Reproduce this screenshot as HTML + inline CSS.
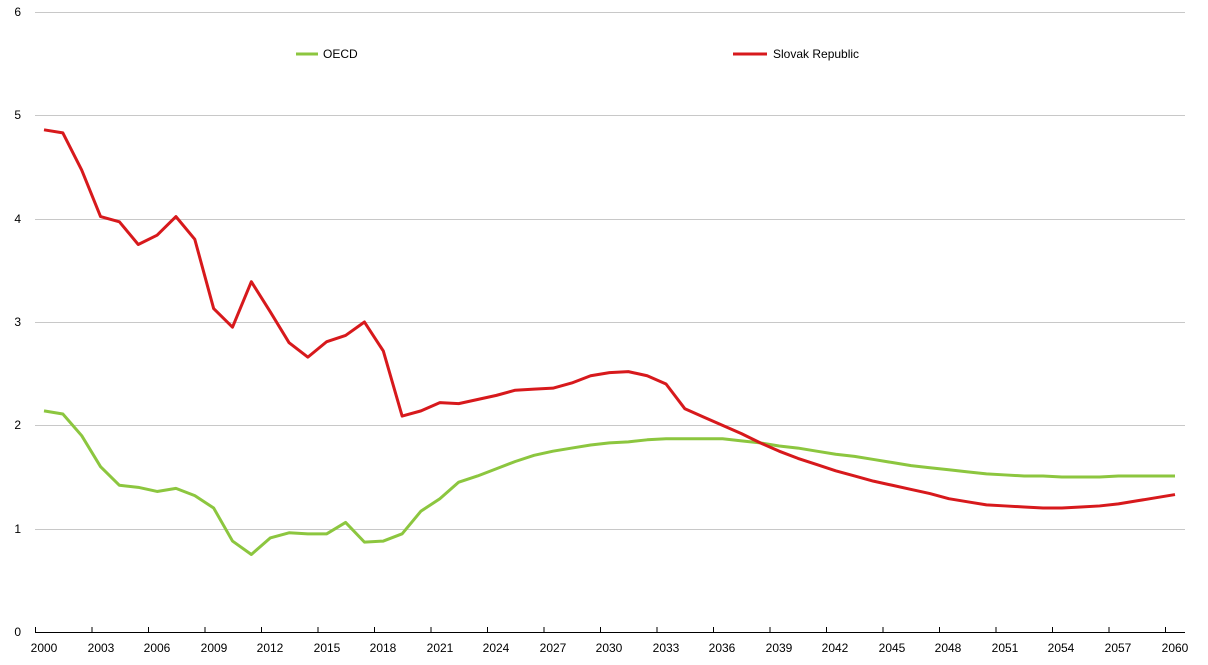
<!DOCTYPE html>
<html><head><meta charset="utf-8"><style>
body{margin:0;background:#fff;}
svg{display:block;font-family:"Liberation Sans",Arial,sans-serif;font-size:12px;}
</style></head><body>
<svg width="1208" height="665" viewBox="0 0 1208 665">
<g stroke="#c8c8c8" stroke-width="1">
<line x1="35" x2="1185" y1="12.5" y2="12.5"/>
<line x1="35" x2="1185" y1="115.5" y2="115.5"/>
<line x1="35" x2="1185" y1="219.5" y2="219.5"/>
<line x1="35" x2="1185" y1="322.5" y2="322.5"/>
<line x1="35" x2="1185" y1="425.5" y2="425.5"/>
<line x1="35" x2="1185" y1="529.5" y2="529.5"/>
</g>
<line x1="35" x2="1185" y1="632.5" y2="632.5" stroke="#000" stroke-width="1"/>
<g stroke="#000" stroke-width="1">
<line x1="35.5" x2="35.5" y1="627" y2="632"/><line x1="92" x2="92" y1="627" y2="632"/><line x1="148.5" x2="148.5" y1="627" y2="632"/><line x1="205" x2="205" y1="627" y2="632"/><line x1="261.5" x2="261.5" y1="627" y2="632"/><line x1="318" x2="318" y1="627" y2="632"/><line x1="374.5" x2="374.5" y1="627" y2="632"/><line x1="431" x2="431" y1="627" y2="632"/><line x1="487.5" x2="487.5" y1="627" y2="632"/><line x1="544" x2="544" y1="627" y2="632"/><line x1="600.5" x2="600.5" y1="627" y2="632"/><line x1="657" x2="657" y1="627" y2="632"/><line x1="713.5" x2="713.5" y1="627" y2="632"/><line x1="770" x2="770" y1="627" y2="632"/><line x1="826.5" x2="826.5" y1="627" y2="632"/><line x1="883" x2="883" y1="627" y2="632"/><line x1="939.5" x2="939.5" y1="627" y2="632"/><line x1="996" x2="996" y1="627" y2="632"/><line x1="1052.5" x2="1052.5" y1="627" y2="632"/><line x1="1109" x2="1109" y1="627" y2="632"/><line x1="1165.5" x2="1165.5" y1="627" y2="632"/>
</g>
<g text-anchor="middle" fill="#000">
<text x="44" y="652">2000</text><text x="101" y="652">2003</text><text x="157" y="652">2006</text><text x="214" y="652">2009</text><text x="270" y="652">2012</text><text x="327" y="652">2015</text><text x="383" y="652">2018</text><text x="440" y="652">2021</text><text x="496" y="652">2024</text><text x="553" y="652">2027</text><text x="609" y="652">2030</text><text x="666" y="652">2033</text><text x="722" y="652">2036</text><text x="779" y="652">2039</text><text x="835" y="652">2042</text><text x="892" y="652">2045</text><text x="948" y="652">2048</text><text x="1005" y="652">2051</text><text x="1061" y="652">2054</text><text x="1118" y="652">2057</text><text x="1175" y="652">2060</text>
</g>
<g text-anchor="end" fill="#000">
<text x="21" y="636">0</text><text x="21" y="533">1</text><text x="21" y="429">2</text><text x="21" y="326">3</text><text x="21" y="223">4</text><text x="21" y="119">5</text><text x="21" y="16">6</text>
</g>
<line x1="296" x2="318" y1="54" y2="54" stroke="#8cc63f" stroke-width="3"/>
<text x="323" y="58">OECD</text>
<line x1="733" x2="767" y1="54" y2="54" stroke="#d7191c" stroke-width="3"/>
<text x="773" y="58">Slovak Republic</text>
<g transform="translate(44,632) scale(18.85,-103.33)" fill="none" stroke-linejoin="round">
<polyline vector-effect="non-scaling-stroke" stroke="#8cc63f" stroke-width="3" points="0,2.14 1,2.11 2,1.90 3,1.60 4,1.42 5,1.40 6,1.36 7,1.39 8,1.32 9,1.20 10,0.88 11,0.75 12,0.91 13,0.96 14,0.95 15,0.95 16,1.06 17,0.87 18,0.88 19,0.95 20,1.17 21,1.29 22,1.45 23,1.51 24,1.58 25,1.65 26,1.71 27,1.75 28,1.78 29,1.81 30,1.83 31,1.84 32,1.86 33,1.87 34,1.87 35,1.87 36,1.87 37,1.85 38,1.83 39,1.80 40,1.78 41,1.75 42,1.72 43,1.70 44,1.67 45,1.64 46,1.61 47,1.59 48,1.57 49,1.55 50,1.53 51,1.52 52,1.51 53,1.51 54,1.50 55,1.50 56,1.50 57,1.51 58,1.51 59,1.51 60,1.51"/>
<polyline vector-effect="non-scaling-stroke" stroke="#d7191c" stroke-width="3" points="0,4.86 1,4.83 2,4.47 3,4.02 4,3.97 5,3.75 6,3.84 7,4.02 8,3.80 9,3.13 10,2.95 11,3.39 12,3.10 13,2.80 14,2.66 15,2.81 16,2.87 17,3.00 18,2.72 19,2.09 20,2.14 21,2.22 22,2.21 23,2.25 24,2.29 25,2.34 26,2.35 27,2.36 28,2.41 29,2.48 30,2.51 31,2.52 32,2.48 33,2.40 34,2.16 35,2.08 36,2.00 37,1.92 38,1.83 39,1.75 40,1.68 41,1.62 42,1.56 43,1.51 44,1.46 45,1.42 46,1.38 47,1.34 48,1.29 49,1.26 50,1.23 51,1.22 52,1.21 53,1.20 54,1.20 55,1.21 56,1.22 57,1.24 58,1.27 59,1.30 60,1.33"/>
</g>
</svg>
</body></html>
